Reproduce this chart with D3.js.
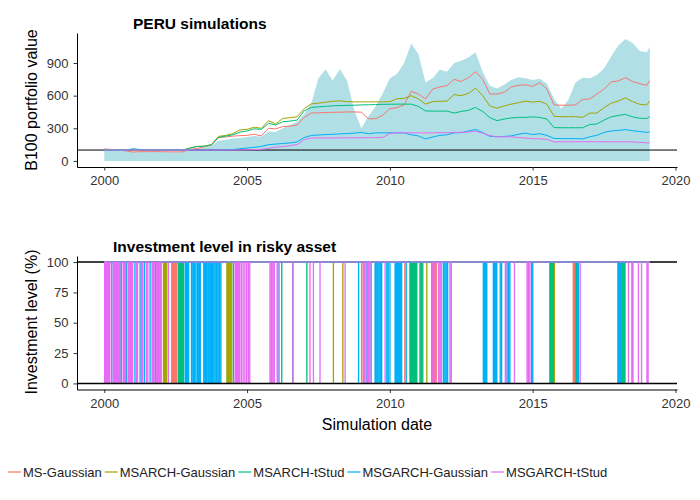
<!DOCTYPE html>
<html>
<head>
<meta charset="utf-8">
<script src="https://cdn.jsdelivr.net/npm/d3@7"></script>
<style>
  body { margin: 0; background: #fff; }
  text { font-family: "Liberation Sans", Arial, sans-serif; }
</style>
</head>
<body>
<div id="chart"></div>
<script>
// quarterly sampling dates (decimal years), last point = end of simulation
var dates = [2000, 2000.25, 2000.5, 2000.75, 2001, 2001.25, 2001.5, 2001.75, 2002, 2002.25, 2002.5, 2002.75,
  2003, 2003.25, 2003.5, 2003.75, 2004, 2004.25, 2004.5, 2004.75, 2005, 2005.25, 2005.5, 2005.75,
  2006, 2006.25, 2006.5, 2006.75, 2007, 2007.25, 2007.5, 2007.75, 2008, 2008.25, 2008.5, 2008.75,
  2009, 2009.25, 2009.5, 2009.75, 2010, 2010.25, 2010.5, 2010.75, 2011, 2011.25, 2011.5, 2011.75,
  2012, 2012.25, 2012.5, 2012.75, 2013, 2013.25, 2013.5, 2013.75, 2014, 2014.25, 2014.5, 2014.75,
  2015, 2015.25, 2015.5, 2015.75, 2016, 2016.25, 2016.5, 2016.75, 2017, 2017.25, 2017.5, 2017.75,
  2018, 2018.25, 2018.5, 2018.75, 2019, 2019.1];

// buy and hold index (shaded area)
var benchmark = [100, 98, 95, 90, 85, 85, 84, 84, 82, 82, 80, 84,
  100, 115, 125, 140, 185, 195, 205, 210, 220, 228, 222, 270,
  265, 300, 330, 360, 430, 530, 760, 840, 740, 845, 740, 470,
  300, 410, 500, 620, 760, 800, 900, 1080, 980, 720, 760, 840,
  820, 900, 920, 950, 1000, 820, 690, 665, 700, 745, 770, 760,
  745, 755, 710, 570, 480, 560, 720, 765, 760, 790, 850, 960,
  1060, 1120, 1085, 1010, 1000, 1050];

var msGaussian = [110, 105, 100, 92, 82, 85, 85, 86, 85, 84, 83, 84,
  105, 115, 130, 145, 215, 220, 228, 232, 235, 245, 230, 300,
  295, 315, 320, 330, 400, 440, 442, 445, 447, 448, 450, 450,
  448, 388, 388, 420, 480, 490, 515, 640, 615, 570, 660, 680,
  692, 750, 730, 765, 820, 750, 615, 615, 630, 680, 695, 700,
  685, 720, 660, 515, 512, 512, 515, 565, 570, 615, 660, 725,
  735, 765, 730, 710, 695, 739];

var msarchGaussian = [100, 100, 100, 100, 100, 100, 100, 100, 100, 100, 100, 100,
  118, 133, 135, 150, 225, 235, 250, 285, 290, 310, 300, 370,
  340, 390, 398, 405, 480, 525, 530, 540, 548, 553, 545, 543,
  543, 543, 543, 543, 545, 572, 575, 600, 570, 522, 545, 548,
  550, 610, 600, 620, 670, 600, 506, 485, 505, 522, 535, 550,
  540, 548, 520, 410, 407, 407, 407, 400, 440, 440, 490, 530,
  550, 580, 545, 520, 515, 553];

var msarchTStud = [100, 100, 100, 100, 100, 100, 100, 100, 100, 100, 100, 100,
  118, 133, 135, 148, 215, 228, 240, 265, 275, 295, 290, 345,
  330, 360, 366, 375, 460, 492, 497, 502, 506, 509, 511, 512,
  515, 516, 518, 520, 521, 522, 522, 522, 500, 460, 458, 458,
  458, 440, 455, 465, 491, 455, 398, 370, 385, 395, 400, 400,
  405, 400, 385, 306, 305, 305, 305, 305, 335, 340, 375, 405,
  418, 428, 405, 392, 390, 407];

var msgarchGaussian = [100, 100, 98, 100, 112, 105, 100, 100, 100, 100, 100, 100,
  100, 100, 100, 100, 102, 103, 105, 112, 118, 125, 133, 149,
  155, 160, 165, 175, 215, 234, 238, 242, 245, 248, 252, 255,
  262, 250, 258, 258, 258, 258, 258, 240, 230, 202, 220, 235,
  240, 258, 260, 275, 289, 260, 226, 222, 225, 230, 245, 255,
  242, 250, 235, 207, 205, 205, 205, 202, 222, 235, 262, 275,
  280, 288, 278, 270, 262, 267];

var msgarchTStud = [100, 100, 100, 100, 100, 100, 100, 100, 100, 100, 100, 100,
  100, 100, 100, 100, 100, 100, 100, 101, 102, 104, 106, 115,
  127, 132, 140, 150, 195, 211, 211, 211, 211, 212, 212, 213,
  213, 214, 214, 215, 252, 258, 258, 258, 258, 258, 258, 259,
  260, 262, 263, 265, 273, 255, 233, 222, 222, 221, 215, 210,
  205, 203, 198, 175, 176, 176, 176, 176, 176, 176, 176, 176,
  176, 176, 175, 170, 166, 165];

// dates at which each strategy left the risky asset (investment level 0) for a few days
var outMsGaussian = [2000.6, 2002.36, 2002.39, 2002.42, 2002.45, 2002.48, 2002.51, 2002.53,
  2009.01, 2009.07, 2009.13, 2010.52, 2011.46, 2011.5, 2011.54, 2011.58, 2011.62,
  2016.42, 2016.45, 2016.48];
var outMsarchGaussian = [2002.07, 2002.1, 2002.14, 2002.18, 2004.29, 2004.33, 2004.37, 2004.41, 2004.46,
  2008.02, 2008.35, 2011.29, 2015.76, 2016.5];
var outMsarchTStud = [2000.02, 2002.59, 2002.62, 2002.65, 2002.68, 2002.71, 2002.74, 2002.77,
  2006.21, 2006.6, 2007.09, 2010.7, 2010.74, 2010.78, 2010.82, 2010.86, 2010.9, 2010.94,
  2011.05, 2011.1, 2011.15, 2015.6, 2015.64, 2015.68, 2015.72, 2016.53,
  2018.12, 2018.16, 2018.2, 2018.23];
var outMsgarchGaussian = [2000.26, 2000.58, 2000.78, 2001.07, 2001.25, 2001.4, 2001.6, 2001.78,
  2002.83, 2002.87, 2002.91, 2002.95, 2003.05, 2003.1, 2003.14, 2003.18,
  2003.24, 2003.28, 2003.32, 2003.36,
  2003.48, 2003.52, 2003.56, 2003.6, 2003.65, 2003.7, 2003.74, 2003.78, 2003.83, 2003.88,
  2003.93, 2003.98, 2004.03, 2004.08, 2004.52, 2006.08,
  2008.9, 2009.19, 2009.24, 2009.34, 2009.48, 2009.52, 2009.57, 2009.62, 2009.67, 2009.71,
  2009.89, 2009.94, 2010.0, 2010.18, 2010.22, 2010.26, 2010.3, 2010.34, 2010.38, 2010.41,
  2010.57, 2011.87, 2011.92, 2011.97, 2012.02,
  2013.27, 2013.31, 2013.35, 2013.39, 2013.62, 2013.66, 2013.7, 2013.74, 2013.86, 2013.91,
  2014.1, 2014.15, 2014.2, 2014.96, 2015.0, 2016.56, 2016.6,
  2017.98, 2018.02, 2018.06, 2018.1];
var outMsgarchTStud = [2000.01, 2000.04, 2000.07, 2000.1, 2000.13, 2000.16, 2000.19,
  2000.31, 2000.35, 2000.39, 2000.43, 2000.47, 2000.51, 2000.54,
  2000.66, 2000.7, 2000.74, 2000.84, 2000.88, 2000.92, 2000.96, 2000.99,
  2001.12, 2001.16, 2001.3, 2001.34, 2001.47, 2001.52, 2001.67, 2001.71, 2001.74,
  2001.83, 2001.87, 2001.91, 2001.95, 2001.99, 2002.24,
  2004.58, 2004.62, 2004.66, 2004.7, 2004.74, 2004.8, 2004.86, 2004.92, 2004.98, 2005.04, 2005.09,
  2005.8, 2005.85, 2005.9, 2005.95, 2006.05, 2006.12, 2006.6,
  2007.2, 2007.32, 2007.55, 2008.43, 2009.1, 2009.2, 2009.25, 2009.3, 2009.83,
  2011.5, 2011.58, 2011.7, 2011.75, 2011.8, 2012.1, 2012.15,
  2014.04, 2014.1, 2014.36, 2014.8, 2014.85, 2014.9, 2016.66,
  2018.35, 2018.47, 2018.51, 2018.7, 2018.81, 2019.0, 2019.04];

var seriesNames = ["MS-Gaussian", "MSARCH-Gaussian", "MSARCH-tStud", "MSGARCH-Gaussian", "MSGARCH-tStud"];
var seriesColors = ["#F8766D", "#A3A500", "#00BF7D", "#00B0F6", "#E76BF3"];
var portfolioValues = [msGaussian, msarchGaussian, msarchTStud, msgarchGaussian, msgarchTStud];
var outDates = [outMsGaussian, outMsarchGaussian, outMsarchTStud, outMsgarchGaussian, outMsgarchTStud];

var xTicks = [2000, 2005, 2010, 2015, 2020];
var topTicks = [0, 300, 600, 900];
var botTicks = [0, 25, 50, 75, 100];
var outLength = 0.008; // years spent out of the market per switch

var svg = d3.select("#chart").append("svg")
    .attr("width", 700)
    .attr("height", 500);

// shared x scale, ggplot style 5% expansion
var xExt = [dates[0], dates[dates.length - 1]];
var xPad = (xExt[1] - xExt[0]) * 0.05;
var x = d3.scaleLinear()
    .domain([xExt[0] - xPad, xExt[1] + xPad])
    .range([77, 677]);

var topMax = d3.max(benchmark.concat(d3.merge(portfolioValues)));
var topPad = topMax * 0.05;
var yTop = d3.scaleLinear()
    .domain([-topPad, topMax + topPad])
    .range([167, 33]);

var yBot = d3.scaleLinear()
    .domain([-5, 105])
    .range([389.5, 256]);

function drawAxes(y, ticks, bottom) {
    var gx = svg.append("g")
        .attr("transform", `translate(0,${bottom})`)
        .call(d3.axisBottom(x).tickValues(xTicks).tickFormat(d3.format("d"))
            .tickSize(3.5).tickSizeOuter(0).tickPadding(5.3));
    var gy = svg.append("g")
        .attr("transform", "translate(77,0)")
        .call(d3.axisLeft(y).tickValues(ticks).tickSize(3.5).tickSizeOuter(0).tickPadding(5));
    [gx, gy].forEach(g => {
        g.select(".domain").attr("stroke", "#000").attr("stroke-width", 1);
        g.selectAll(".tick line").attr("stroke", "#333");
        g.selectAll(".tick text").attr("fill", "#333")
            .style("font-size", "13px")
            .style("font-family", '"Liberation Sans", Arial, sans-serif');
    });
}

// ---- top panel: portfolio values
var topData = dates.map((d, i) => ({ t: d, v: benchmark[i] }));
svg.append("path")
    .datum(topData)
    .attr("fill", "#B0DFE5")
    .attr("d", d3.area().x(d => x(d.t)).y0(yTop(0)).y1(d => yTop(d.v)));

svg.append("line")
    .attr("x1", 77).attr("x2", 677)
    .attr("y1", yTop(100)).attr("y2", yTop(100))
    .attr("stroke", "#000").attr("stroke-width", 1);

var valueLine = d3.line().x(d => x(d.t)).y(d => yTop(d.v));
portfolioValues.forEach((vals, k) => {
    svg.append("path")
        .datum(dates.map((d, i) => ({ t: d, v: vals[i] })))
        .attr("fill", "none")
        .attr("stroke", seriesColors[k])
        .attr("stroke-width", 1)
        .attr("d", valueLine);
});

drawAxes(yTop, topTicks, 167);

// ---- bottom panel: investment level
svg.append("line")
    .attr("x1", 77).attr("x2", 677)
    .attr("y1", yBot(100)).attr("y2", yBot(100))
    .attr("stroke", "#000").attr("stroke-width", 1.6);

var levelLine = d3.line().x(d => x(d[0])).y(d => yBot(d[1]));
outDates.forEach((outs, k) => {
    var pts = [[xExt[0], 100]];
    outs.forEach(t => {
        pts.push([t, 100], [t, 0], [t + outLength, 0], [t + outLength, 100]);
    });
    pts.push([xExt[1], 100]);
    svg.append("path")
        .datum(pts)
        .attr("fill", "none")
        .attr("stroke", seriesColors[k])
        .attr("stroke-width", 1.1)
        .attr("d", levelLine);
});

svg.append("line")
    .attr("x1", 77).attr("x2", 677)
    .attr("y1", yBot(0)).attr("y2", yBot(0))
    .attr("stroke", "#000").attr("stroke-width", 1.6);

drawAxes(yBot, botTicks, 389.5);

// ---- titles
svg.append("text")
    .attr("x", 133).attr("y", 28.5)
    .style("font-size", "15.5px").style("font-weight", "bold")
    .text("PERU simulations");

svg.append("text")
    .attr("x", 113).attr("y", 251.5)
    .style("font-size", "15.5px").style("font-weight", "bold")
    .text("Investment level in risky asset");

svg.append("text")
    .attr("transform", "translate(37,100) rotate(-90)")
    .attr("text-anchor", "middle")
    .style("font-size", "16px")
    .text("B100 portfolio value");

svg.append("text")
    .attr("transform", "translate(37,322) rotate(-90)")
    .attr("text-anchor", "middle")
    .style("font-size", "16px")
    .text("Investment level (%)");

svg.append("text")
    .attr("x", 377).attr("y", 430)
    .attr("text-anchor", "middle")
    .style("font-size", "16px")
    .text("Simulation date");

// ---- legend
var lx = 8;
seriesNames.forEach((name, k) => {
    svg.append("line")
        .attr("x1", lx).attr("x2", lx + 13)
        .attr("y1", 472).attr("y2", 472)
        .attr("stroke", seriesColors[k]).attr("stroke-width", 1.2);
    var t = svg.append("text")
        .attr("x", lx + 15).attr("y", 476.5)
        .style("font-size", "13px")
        .attr("fill", "#222")
        .text(name);
    lx += 15 + t.node().getComputedTextLength() + 3;
});
</script>
</body>
</html>
